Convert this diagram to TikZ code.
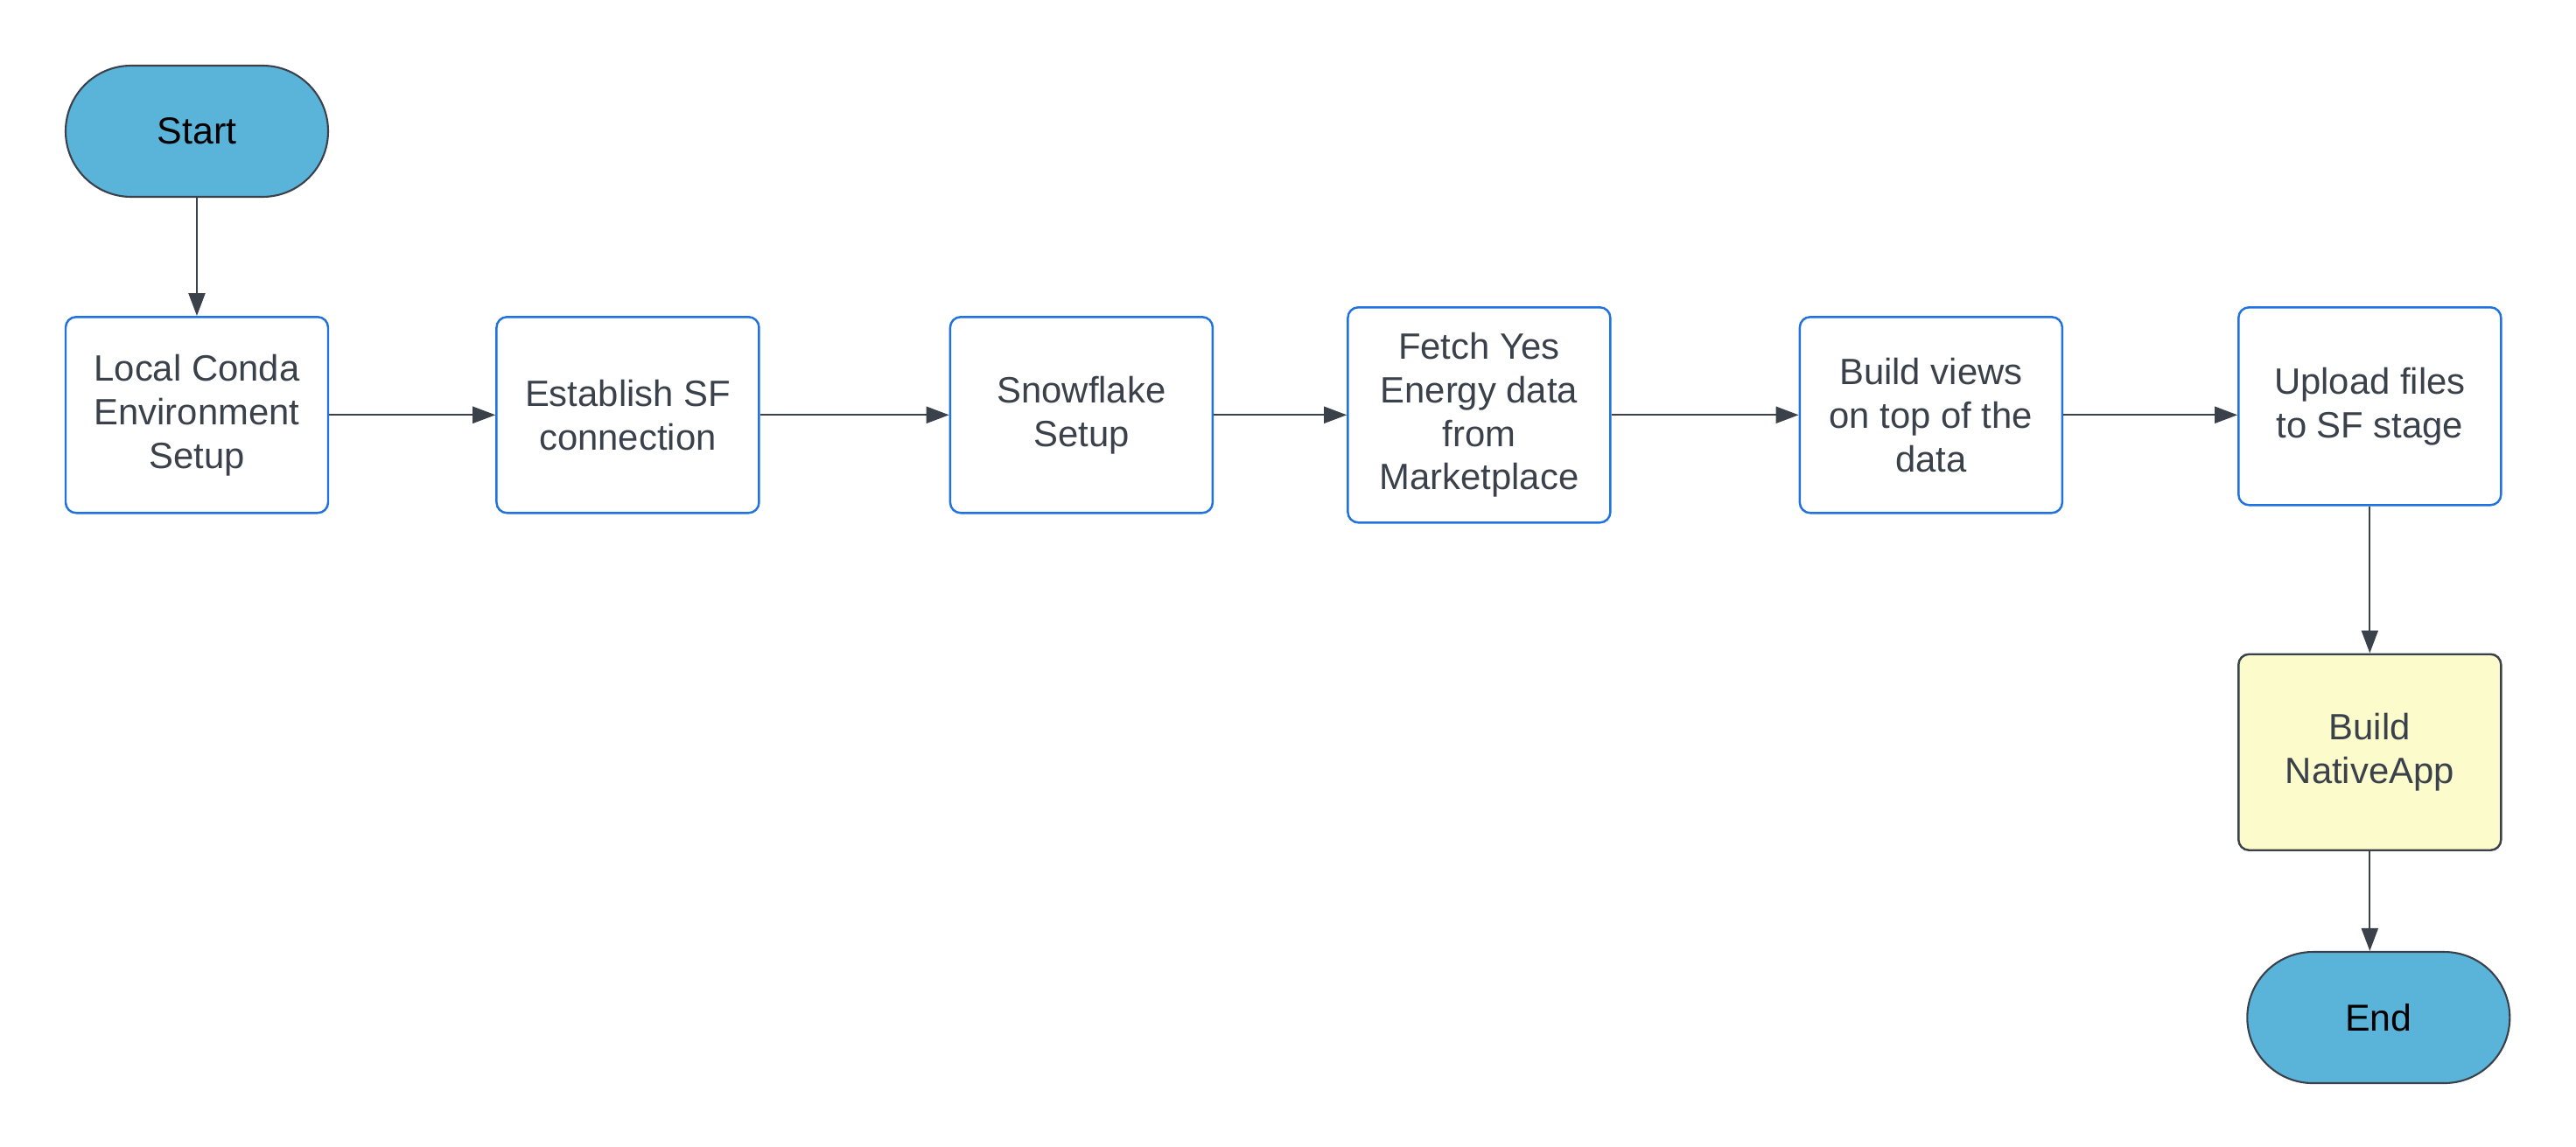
\documentclass[tikz,border=0pt]{standalone}
\usepackage{fontspec}
\setmainfont{Liberation Sans}
\usepackage{tikz}
\usetikzlibrary{arrows.meta, positioning}
\definecolor{termBlue}{HTML}{5AB3D9}
\definecolor{stepBorder}{HTML}{1F72E0}
\definecolor{lineGray}{HTML}{3A414A}
\definecolor{appYellow}{HTML}{FCFBCB}

\begin{document}
\begin{tikzpicture}[
    node distance=1.5cm and 2cm,
    terminal/.style={rectangle, draw=lineGray, line width=0.6pt, rounded corners=0.75cm, fill=termBlue, minimum width=3cm, minimum height=1.5cm, font=\fontsize{12.2}{14.2}\selectfont, text=black},
    stepbox/.style={rectangle, draw=stepBorder, line width=0.7pt, rounded corners=0.12cm, fill=white, minimum width=3cm, minimum height=2.24cm, align=center, font=\fontsize{11.9}{14.2}\selectfont, text=lineGray},
    appbox/.style={stepbox, draw=lineGray, fill=appYellow},
    arrow/.style={-{Triangle[length=0.26cm, width=0.19cm]}, line width=0.6pt, draw=lineGray}
]
\useasboundingbox (0,0) rectangle (29.44,-13.11);

\node[terminal] (start) at (2.25,-1.5) {Start};
\node[stepbox, below=1.35cm of start] (conda) {Local Conda\\Environment\\Setup};
\node[stepbox, right=1.9cm of conda] (connect) {Establish SF\\connection};
\node[stepbox, right=2.16cm of connect] (sfsetup) {Snowflake\\Setup};
\node[stepbox, right=1.52cm of sfsetup, minimum height=2.46cm] (fetch) {Fetch Yes\\Energy data\\from\\Marketplace};
\node[stepbox, right=2.14cm of fetch] (views) {Build views\\on top of the\\data};
\node[stepbox, right=1.99cm of views, yshift=0.1cm, minimum height=2.26cm] (upload) {Upload files\\to SF stage};
\node[appbox, below=1.68cm of upload] (nativeapp) {Build\\NativeApp};
\node[terminal, below=1.14cm of nativeapp, xshift=0.1cm] (end) {End};

\draw[arrow] (start) -- (conda);
\draw[arrow] (conda) -- (connect);
\draw[arrow] (connect) -- (sfsetup);
\draw[arrow] (sfsetup) -- (fetch);
\draw[arrow] (fetch) -- (views);
\draw[arrow] (views) -- (views -| upload.west);
\draw[arrow] (upload) -- (nativeapp);
\draw[arrow] (nativeapp) -- (nativeapp |- end.north);

\end{tikzpicture}
\end{document}
